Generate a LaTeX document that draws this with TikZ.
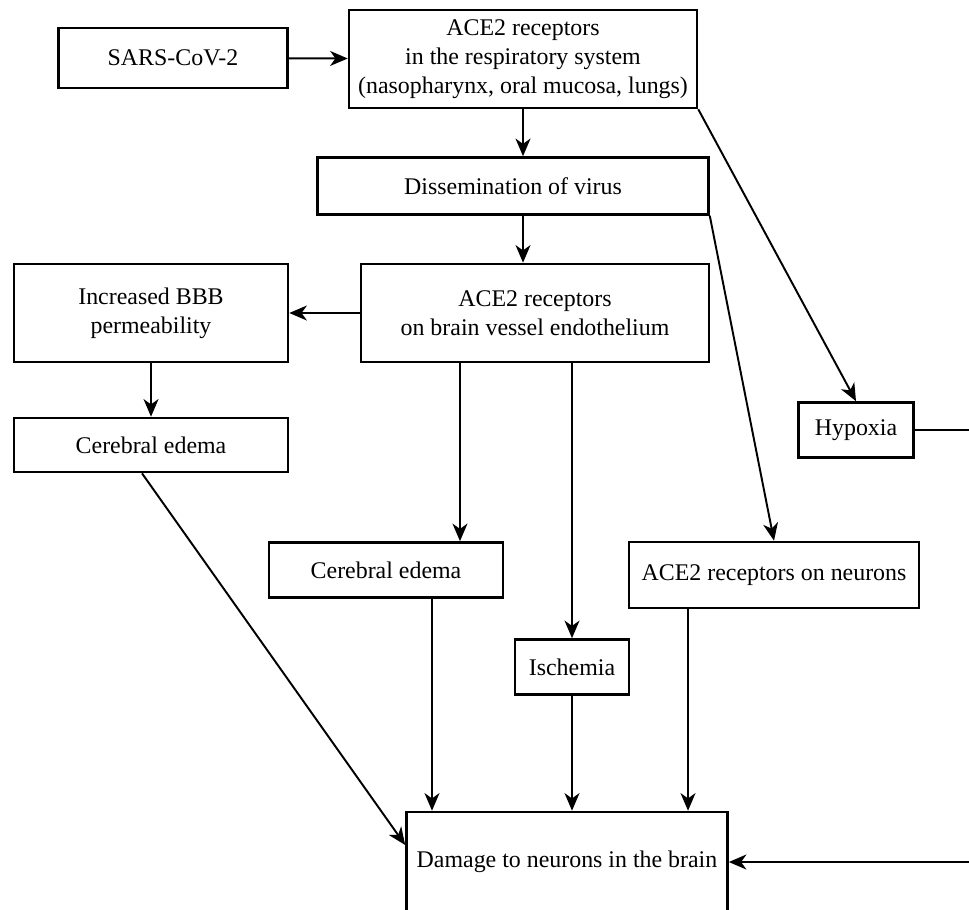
\documentclass[tikz,border=0pt]{standalone}
\usepackage{fontspec}
\setmainfont{Liberation Serif}
\usetikzlibrary{arrows.meta}
\begin{document}
\begin{tikzpicture}[x=0.02cm,y=-0.02cm,
    box/.style={draw,line width=1.5pt,align=center,inner sep=2pt,
      font=\fontsize{13.6}{16.5}\selectfont},
    flow/.style={-{Stealth[length=10pt,width=8.5pt,inset=3pt]},line width=1.1pt}]
  \useasboundingbox (0,0) rectangle (969,909);
  \clip (0,0) rectangle (969,909);
  \node[box,minimum width=4.58cm,minimum height=1.2cm] (sars) at (173,58) {SARS-CoV-2};
  \node[box,minimum width=6.96cm,minimum height=1.96cm] (resp) at (523,59)
    {ACE2 receptors\\in the respiratory system\\(nasopharynx, oral mucosa, lungs)};
  \node[box,minimum width=7.82cm,minimum height=1.14cm] (diss) at (513,186) {Dissemination of virus};
  \node[box,minimum width=6.96cm,minimum height=1.96cm] (brain) at (535,313)
    {ACE2 receptors\\on brain vessel endothelium};
  \node[box,minimum width=5.48cm,minimum height=1.96cm] (bbb) at (151,313)
    {Increased BBB\\permeability};
  \node[box,minimum width=5.48cm,minimum height=1.08cm] (edema1) at (151,445) {Cerebral edema};
  \node[box,minimum width=4.68cm,minimum height=1.1cm] (edema2) at (386,570) {Cerebral edema};
  \node[box,minimum width=2.28cm,minimum height=1.1cm] (isch) at (572,667) {Ischemia};
  \node[box,minimum width=5.8cm,minimum height=1.32cm] (neur) at (774,575) {ACE2 receptors on neurons};
  \node[box,minimum width=2.3cm,minimum height=1.1cm] (hyp) at (856,430) {Hypoxia};
  \node[box,minimum width=6.42cm,minimum height=2.0cm] (dmg) at (567,862) {Damage to neurons in the brain};
  \coordinate (edgeA) at (980,430);
  \coordinate (edgeB) at (980,862);
  \begin{scope}[flow]
    \draw (sars) to (resp);
    \draw (resp.south) to (resp.south |- diss.north);
    \draw (resp.south |- diss.south) to (resp.south |- brain.north);
    \draw (brain.west) to (bbb.east);
    \draw (bbb) to (edema1);
    \draw ([xshift=1.48cm]edema2.north |- brain.south) to ([xshift=1.48cm]edema2.north);
    \draw (isch.north |- brain.south) to (isch.north);
    \draw (resp.south east) to (hyp.north);
    \draw (diss.south east) to (neur.north);
    \draw ([xshift=-0.18cm]edema1.south) to ([yshift=0.34cm]dmg.west);
    \draw ([xshift=0.92cm]edema2.south) to ([xshift=0.92cm]edema2.south |- dmg.north);
    \draw (isch.south) to (isch.south |- dmg.north);
    \draw ([xshift=-1.72cm]neur.south) to ([xshift=-1.72cm]neur.south |- dmg.north);
    \draw (hyp.east) -- (edgeA) -- (edgeB) -- (dmg.east);
  \end{scope}
\end{tikzpicture}
\end{document}
